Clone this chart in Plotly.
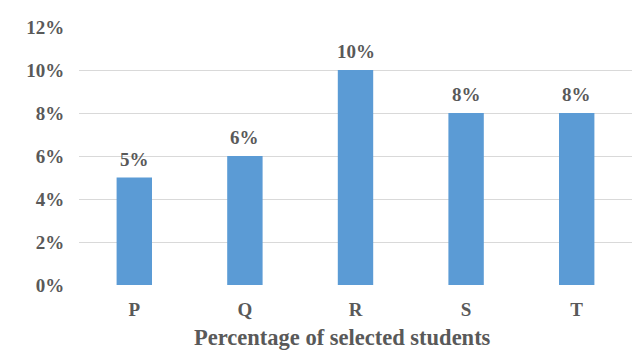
import plotly.graph_objects as go

categories = ["P", "Q", "R", "S", "T"]
values = [5, 6, 10, 8, 8]
y_ticks = [0, 2, 4, 6, 8, 10, 12]
y_tick_labels = [f"{v}%" for v in y_ticks]
x_title = "Percentage of selected students"

FONT = "Liberation Serif, Times New Roman, serif"
TXT = "#595959"

fig = go.Figure(go.Bar(
    x=categories, y=values,
    marker=dict(color="#5b9bd5", line=dict(width=0)),
    hoverinfo="skip",
))

for c, v in zip(categories, values):
    fig.add_annotation(
        x=c, y=v, text=f"{v}%", showarrow=False,
        xanchor="center", yanchor="bottom", yshift=6,
        font=dict(family=FONT, size=19, color=TXT, weight="bold"),
    )

fig.update_layout(
    width=644, height=354,
    margin=dict(l=79, r=12, t=27, b=69),
    paper_bgcolor="white", plot_bgcolor="white",
    bargap=0.68,
    showlegend=False,
    font=dict(family=FONT, color=TXT),
    xaxis=dict(
        showgrid=False, showline=False, zeroline=False,
        tickfont=dict(family=FONT, size=19, color=TXT, weight="bold"),
        ticks="outside", ticklen=7, tickcolor="rgba(0,0,0,0)",
    ),
    yaxis=dict(
        range=[0, 12], tickvals=y_ticks, ticktext=y_tick_labels,
        showgrid=True, gridcolor="#d9d9d9", gridwidth=1,
        zeroline=False, showline=False,
        tickfont=dict(family=FONT, size=19, color=TXT, weight="bold"),
        ticks="outside", ticklen=10, tickcolor="rgba(0,0,0,0)",
    ),
)
fig.add_annotation(
    text=x_title, xref="paper", yref="paper", x=0.477, y=-0.205,
    xanchor="center", yanchor="middle", showarrow=False,
    font=dict(family=FONT, size=22.5, color=TXT, weight="bold"),
)

fig.write_html("out.html")
